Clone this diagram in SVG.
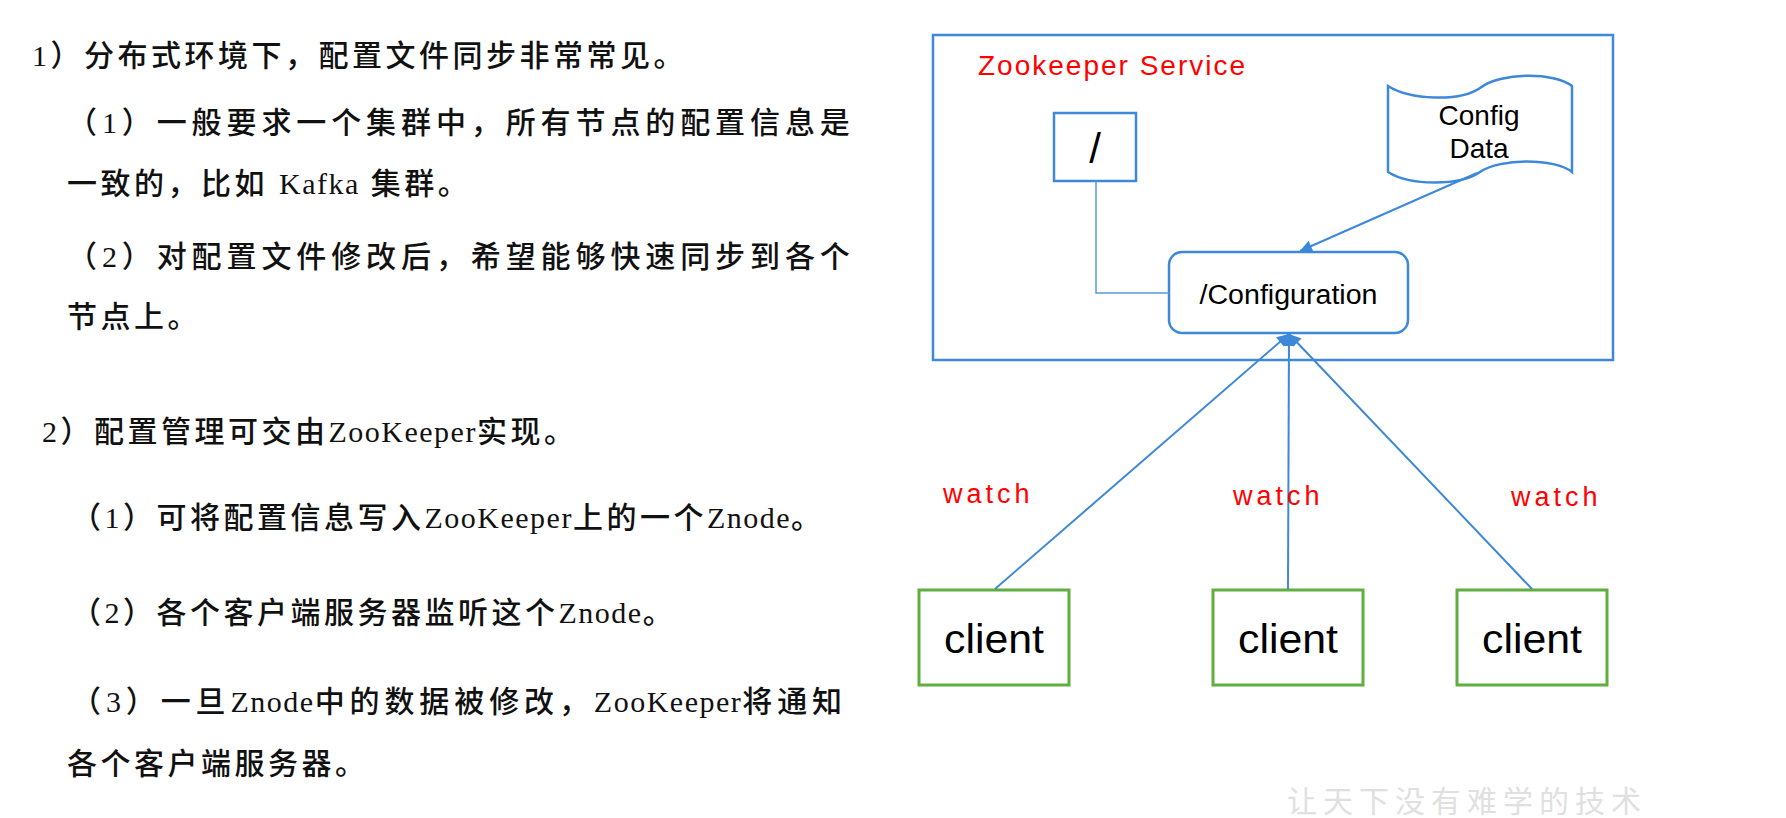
<svg xmlns="http://www.w3.org/2000/svg" width="1786" height="818" viewBox="0 0 1786 818">
<style>
  .txt { font-family: "Liberation Serif", "Noto Sans CJK SC", serif; font-size: 30px; font-weight: 500; letter-spacing: 3.5px; fill: #111; }
  .j { letter-spacing: 4.9px; }
  .lat { letter-spacing: 1.5px; font-weight: 400; }
  .blue { fill: none; stroke: #3d88d8; stroke-width: 2.5; }
  .green { fill: #fff; stroke: #5fae3e; stroke-width: 3; }
  .sans { font-family: "Liberation Sans", Arial, sans-serif; fill: #000; }
  .red { font-family: "Liberation Sans", Arial, sans-serif; fill: #ff0000; }
  .conn { fill: none; stroke: #3d88d8; stroke-width: 2; }
  .thin { fill: none; stroke: #5b9bd5; stroke-width: 1.5; }
  .wm { font-family: "Noto Sans CJK SC", sans-serif; font-size: 30px; letter-spacing: 6px; fill: #e0e0e0; }
</style>
<defs>
  <marker id="arr" viewBox="0 0 10 10" refX="10" refY="5" markerWidth="14" markerHeight="12" markerUnits="userSpaceOnUse" orient="auto">
    <path d="M0,0 L10,5 L0,10 z" fill="#3d88d8"/>
  </marker>
</defs>
<rect width="1786" height="818" fill="#fff"/>

<g id="left-text">
  <text class="txt" x="32" y="66">1）分布式环境下，配置文件同步非常常见。</text>
  <text class="txt j" x="67" y="133">（1）一般要求一个集群中，所有节点的配置信息是</text>
  <text class="txt" x="67" y="194">一致的，比如 <tspan class="lat">Kafka</tspan> 集群。</text>
  <text class="txt j" x="67" y="267">（2）对配置文件修改后，希望能够快速同步到各个</text>
  <text class="txt" x="67" y="327">节点上。</text>
  <text class="txt" x="42" y="442">2）配置管理可交由<tspan class="lat">ZooKeeper</tspan>实现。</text>
  <text class="txt" x="71" y="528">（1）可将配置信息写入<tspan class="lat">ZooKeeper</tspan>上的一个<tspan class="lat">Znode</tspan>。</text>
  <text class="txt" x="71" y="623">（2）各个客户端服务器监听这个<tspan class="lat">Znode</tspan>。</text>
  <text class="txt j" x="71" y="712">（3）一旦<tspan class="lat">Znode</tspan>中的数据被修改，<tspan class="lat">ZooKeeper</tspan>将通知</text>
  <text class="txt" x="67" y="774">各个客户端服务器。</text>
</g>

<g id="zookeeper-service">
  <rect class="blue" x="933" y="35" width="680" height="325"/>
  <text class="red" x="978" y="75" font-size="28" letter-spacing="2">Zookeeper Service</text>
</g>

<g id="root-node">
  <rect class="blue" x="1054" y="113" width="82" height="68" fill="#fff"/>
  <text class="sans" x="1095" y="163" font-size="42" text-anchor="middle">/</text>
</g>

<g id="config-data">
  <path class="blue" fill="#fff" d="M1388,86 C1410,100 1460,102 1480,88 C1500,72 1555,72 1572,86 L1572,172 C1555,158 1500,158 1480,172 C1460,186 1410,186 1388,172 Z"/>
  <text class="sans" x="1479" y="125" font-size="28" text-anchor="middle">Config</text>
  <text class="sans" x="1479" y="158" font-size="28" text-anchor="middle">Data</text>
</g>

<g id="configuration">
  <rect class="blue" x="1169" y="252" width="239" height="81" rx="13" ry="13" fill="#fff"/>
  <text class="sans" x="1288.5" y="304" font-size="27" text-anchor="middle" textLength="178" lengthAdjust="spacingAndGlyphs">/Configuration</text>
</g>

<g id="client-1">
  <rect class="green" x="919" y="590" width="150" height="95"/>
  <text class="sans" x="994" y="653" font-size="40" text-anchor="middle" textLength="100" lengthAdjust="spacingAndGlyphs">client</text>
</g>
<g id="client-2">
  <rect class="green" x="1213" y="590" width="150" height="95"/>
  <text class="sans" x="1288" y="653" font-size="40" text-anchor="middle" textLength="100" lengthAdjust="spacingAndGlyphs">client</text>
</g>
<g id="client-3">
  <rect class="green" x="1457" y="590" width="150" height="95"/>
  <text class="sans" x="1532" y="653" font-size="40" text-anchor="middle" textLength="100" lengthAdjust="spacingAndGlyphs">client</text>
</g>

<g id="connectors">
  <polyline class="thin" points="1096,181 1096,293 1169,293"/>
  <line class="conn" x1="1477" y1="173" x2="1300" y2="251" marker-end="url(#arr)"/>
  <line class="conn" x1="995" y1="589" x2="1289" y2="334" marker-end="url(#arr)"/>
  <line class="conn" x1="1288" y1="589" x2="1289" y2="334" marker-end="url(#arr)"/>
  <line class="conn" x1="1532" y1="589" x2="1289" y2="334" marker-end="url(#arr)"/>
</g>

<g id="watch-labels">
  <text class="red" x="943" y="503" font-size="27" letter-spacing="4">watch</text>
  <text class="red" x="1233" y="505" font-size="27" letter-spacing="4">watch</text>
  <text class="red" x="1511" y="506" font-size="27" letter-spacing="4">watch</text>
</g>

<g id="watermark">
  <text class="wm" x="1287" y="812">让天下没有难学的技术</text>
</g>
</svg>
